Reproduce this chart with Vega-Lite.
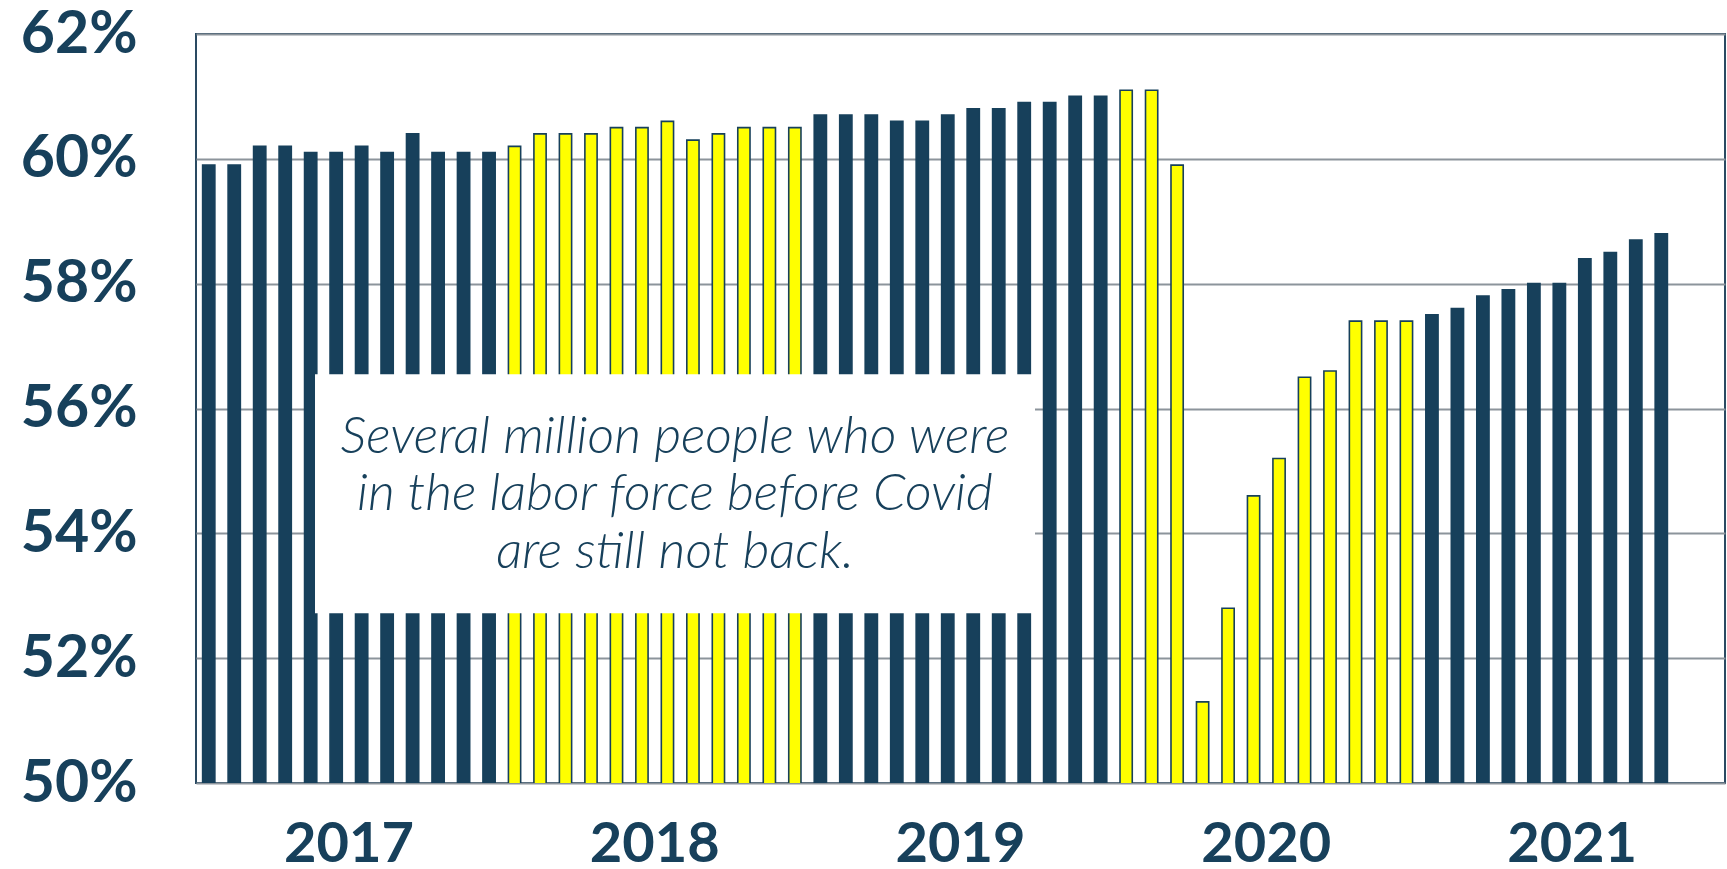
{
  "$schema": "https://vega.github.io/schema/vega-lite/v6.json",
  "width": 1529,
  "height": 749,
  "autosize": "none",
  "padding": {"left": 196, "top": 34, "right": 2, "bottom": 86},
  "background": "white",
  "config": {"view": {"stroke": "#2a4a62", "strokeWidth": 2}},
  "datasets": {
    "epop": [
      {"month": "2017-01", "rate": 59.9}, {"month": "2017-02", "rate": 59.9}, {"month": "2017-03", "rate": 60.2}, {"month": "2017-04", "rate": 60.2},
      {"month": "2017-05", "rate": 60.1}, {"month": "2017-06", "rate": 60.1}, {"month": "2017-07", "rate": 60.2}, {"month": "2017-08", "rate": 60.1},
      {"month": "2017-09", "rate": 60.4}, {"month": "2017-10", "rate": 60.1}, {"month": "2017-11", "rate": 60.1}, {"month": "2017-12", "rate": 60.1},
      {"month": "2018-01", "rate": 60.2}, {"month": "2018-02", "rate": 60.4}, {"month": "2018-03", "rate": 60.4}, {"month": "2018-04", "rate": 60.4},
      {"month": "2018-05", "rate": 60.5}, {"month": "2018-06", "rate": 60.5}, {"month": "2018-07", "rate": 60.6}, {"month": "2018-08", "rate": 60.3},
      {"month": "2018-09", "rate": 60.4}, {"month": "2018-10", "rate": 60.5}, {"month": "2018-11", "rate": 60.5}, {"month": "2018-12", "rate": 60.5},
      {"month": "2019-01", "rate": 60.7}, {"month": "2019-02", "rate": 60.7}, {"month": "2019-03", "rate": 60.7}, {"month": "2019-04", "rate": 60.6},
      {"month": "2019-05", "rate": 60.6}, {"month": "2019-06", "rate": 60.7}, {"month": "2019-07", "rate": 60.8}, {"month": "2019-08", "rate": 60.8},
      {"month": "2019-09", "rate": 60.9}, {"month": "2019-10", "rate": 60.9}, {"month": "2019-11", "rate": 61.0}, {"month": "2019-12", "rate": 61.0},
      {"month": "2020-01", "rate": 61.1}, {"month": "2020-02", "rate": 61.1}, {"month": "2020-03", "rate": 59.9}, {"month": "2020-04", "rate": 51.3},
      {"month": "2020-05", "rate": 52.8}, {"month": "2020-06", "rate": 54.6}, {"month": "2020-07", "rate": 55.2}, {"month": "2020-08", "rate": 56.5},
      {"month": "2020-09", "rate": 56.6}, {"month": "2020-10", "rate": 57.4}, {"month": "2020-11", "rate": 57.4}, {"month": "2020-12", "rate": 57.4},
      {"month": "2021-01", "rate": 57.5}, {"month": "2021-02", "rate": 57.6}, {"month": "2021-03", "rate": 57.8}, {"month": "2021-04", "rate": 57.9},
      {"month": "2021-05", "rate": 58.0}, {"month": "2021-06", "rate": 58.0}, {"month": "2021-07", "rate": 58.4}, {"month": "2021-08", "rate": 58.5},
      {"month": "2021-09", "rate": 58.7}, {"month": "2021-10", "rate": 58.8}
    ],
    "note": [
      {"text": ["Several million people who were", "in the labor force before Covid", "are still not back."]}
    ]
  },
  "layer": [
    {
      "data": {"name": "epop"},
      "mark": {"type": "bar", "stroke": "#17405b", "strokeWidth": 1.6, "clip": true},
      "encoding": {
        "x": {
          "field": "month",
          "type": "ordinal",
          "scale": {
            "domain": ["2017-01","2017-02","2017-03","2017-04","2017-05","2017-06","2017-07","2017-08","2017-09","2017-10","2017-11","2017-12",
                       "2018-01","2018-02","2018-03","2018-04","2018-05","2018-06","2018-07","2018-08","2018-09","2018-10","2018-11","2018-12",
                       "2019-01","2019-02","2019-03","2019-04","2019-05","2019-06","2019-07","2019-08","2019-09","2019-10","2019-11","2019-12",
                       "2020-01","2020-02","2020-03","2020-04","2020-05","2020-06","2020-07","2020-08","2020-09","2020-10","2020-11","2020-12",
                       "2021-01","2021-02","2021-03","2021-04","2021-05","2021-06","2021-07","2021-08","2021-09","2021-10","2021-11","2021-12"],
            "paddingInner": 0.52,
            "paddingOuter": 0.26
          },
          "axis": {
            "title": null,
            "values": ["2017-07", "2018-07", "2019-07", "2020-07", "2021-07"],
            "labelExpr": "substring(datum.value, 0, 4)",
            "labelOffset": -12.74,
            "labelAngle": 0,
            "labelAlign": "center",
            "labelBaseline": "alphabetic",
            "labelPadding": 78,
            "labelFont": "Lato",
            "labelFontWeight": "bold",
            "labelFontSize": 56,
            "labelColor": "#17405b",
            "labelOverlap": false,
            "ticks": false,
            "domain": false
          }
        },
        "y": {
          "field": "rate",
          "type": "quantitative",
          "scale": {"domain": [50, 62], "nice": false, "zero": false},
          "axis": {
            "title": null,
            "values": [50, 52, 54, 56, 58, 60, 62],
            "labelExpr": "datum.value + '%'",
            "labelFont": "Lato",
            "labelFontWeight": "bold",
            "labelFontSize": 59,
            "labelColor": "#17405b",
            "labelPadding": 59,
            "labelFlush": false,
            "labelOverlap": false,
            "ticks": false,
            "domain": false,
            "grid": true,
            "gridColor": "#8c949b",
            "gridWidth": 2
          }
        },
        "fill": {
          "condition": {
            "test": "(datum.month >= '2018' && datum.month < '2019') || (datum.month >= '2020' && datum.month < '2021')",
            "value": "#ffff00"
          },
          "value": "#17405b"
        }
      }
    },
    {
      "data": {"name": "note"},
      "mark": {"type": "rect", "fill": "white", "stroke": null},
      "encoding": {
        "x": {"datum": "2017-05", "type": "ordinal", "bandPosition": 0.854},
        "x2": {"datum": "2019-09", "bandPosition": 1.383},
        "y": {"datum": 52.72, "type": "quantitative"},
        "y2": {"datum": 56.55}
      }
    },
    {
      "data": {"name": "note"},
      "mark": {
        "type": "text",
        "font": "Lato",
        "fontStyle": "italic",
        "fontWeight": 300,
        "fontSize": 52,
        "color": "#17405b",
        "align": "center",
        "baseline": "alphabetic",
        "lineHeight": 57.5
      },
      "encoding": {
        "x": {"datum": "2018-07", "type": "ordinal", "bandPosition": 1.119},
        "y": {"datum": 55.29, "type": "quantitative"},
        "text": {"field": "text"}
      }
    }
  ]
}
